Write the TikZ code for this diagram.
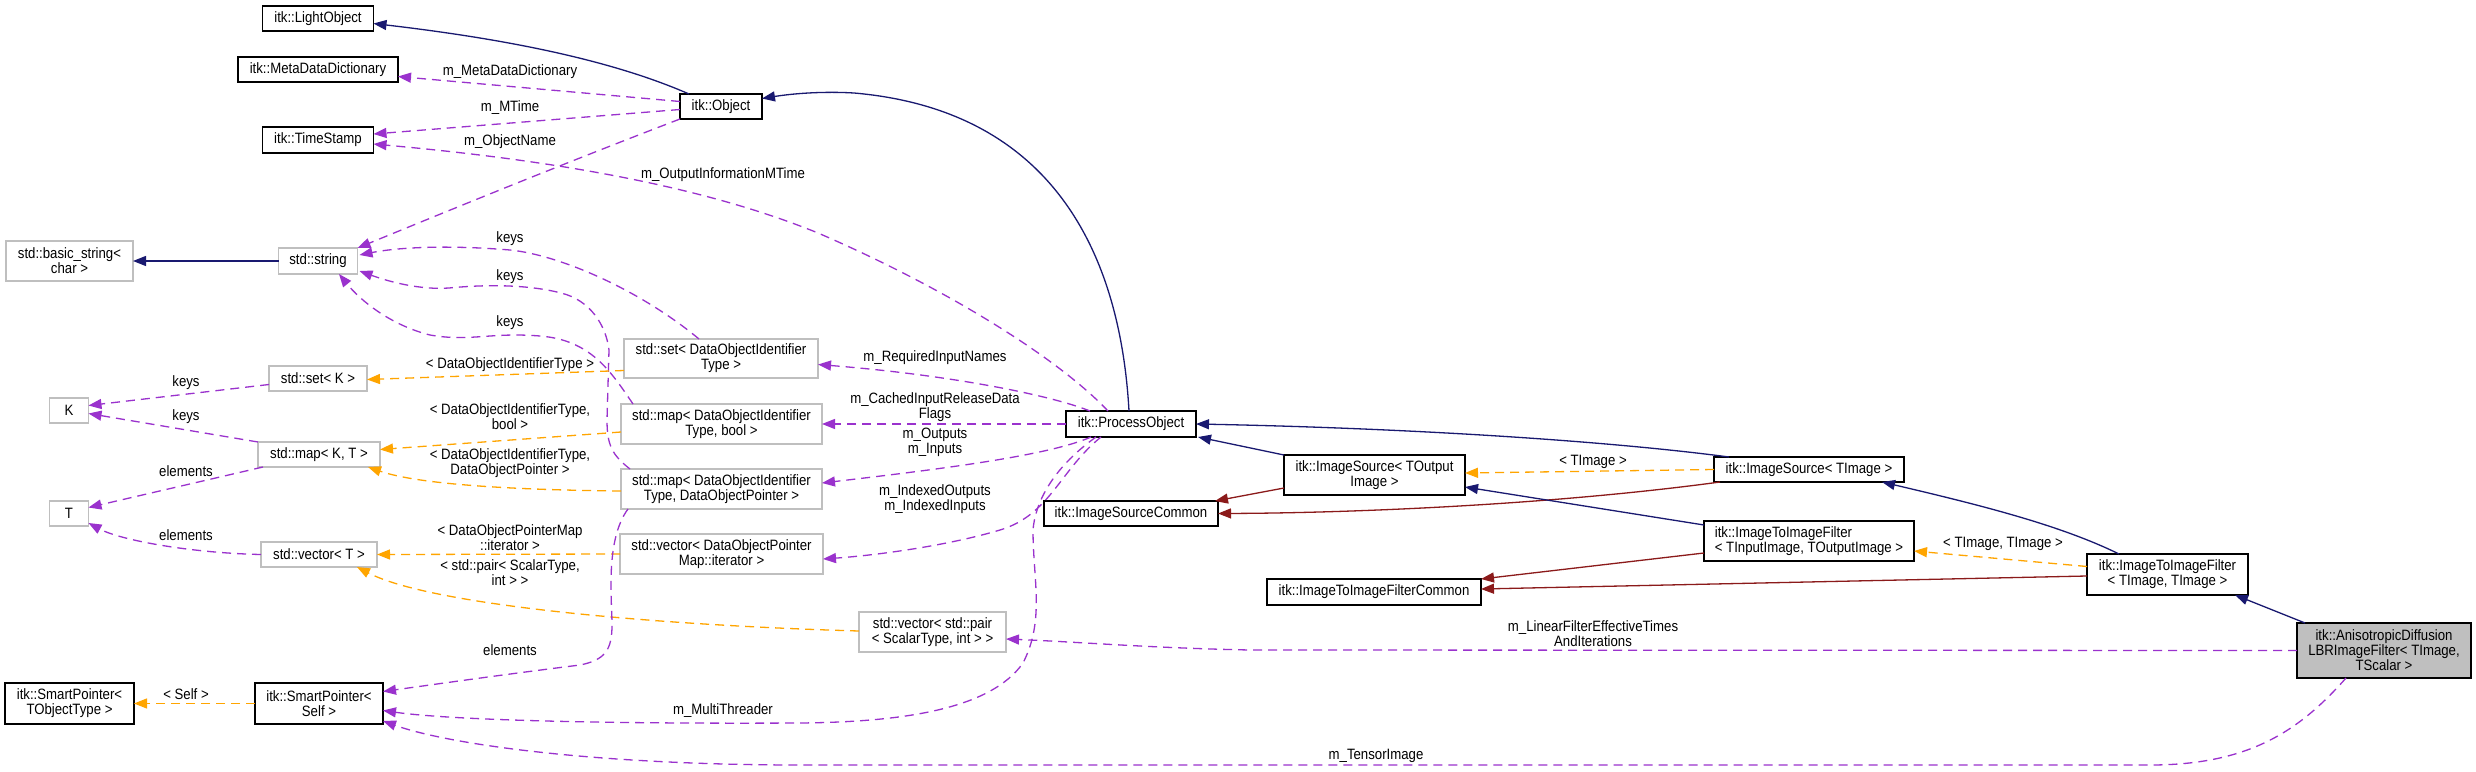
\documentclass[tikz,border=0pt]{standalone}
\usepackage{fontspec}
\setmainfont{Liberation Sans}[FakeStretch=0.88]
\usetikzlibrary{arrows.meta,calc}
\definecolor{navy}{HTML}{191970}
\definecolor{purp}{HTML}{9A32CD}
\definecolor{orng}{HTML}{FFA500}
\definecolor{dred}{HTML}{8B1A1A}
\definecolor{lgray}{HTML}{BFBFBF}
\begin{document}
\begin{tikzpicture}[x=1pt,y=-1pt,
 every node/.style={font=\fontsize{15}{15}\selectfont, inner sep=0pt, outer sep=0pt},
 cls/.style={draw=black, line width=1.6pt, fill=white, align=center},
 stdc/.style={draw=lgray, line width=1.6pt, fill=white, align=center},
 lbl/.style={align=center},
 inh/.style={draw=navy, line width=1.3pt, -{Triangle[length=13pt,width=10pt]}},
 priv/.style={draw=dred, line width=1.3pt, -{Triangle[length=13pt,width=10pt]}},
 use/.style={draw=purp, line width=1.3pt, dash pattern=on 9pt off 6pt, -{Triangle[length=13pt,width=10pt]}},
 tmpl/.style={draw=orng, line width=1.3pt, dash pattern=on 9pt off 6pt, -{Triangle[length=13pt,width=10pt]}}]
\fill[white] (0,0) rectangle (2476,771);
\useasboundingbox (0,0) rectangle (2476,771);
% nodes
\node[cls, minimum width=111, minimum height=25] (lo) at (318,18.5) {itk::LightObject};
\node[cls, minimum width=160, minimum height=25] (mdd) at (318,69.5) {itk::MetaDataDictionary};
\node[cls, minimum width=111, minimum height=26] (ts) at (318,140) {itk::TimeStamp};
\node[cls, minimum width=82, minimum height=25] (obj) at (721,106.5) {itk::Object};
\node[stdc, minimum width=127, minimum height=40] (bstr) at (69.5,261) {std::basic\_string<\\ char >};
\node[stdc, minimum width=79, minimum height=26] (str) at (318,261) {std::string};
\node[stdc, minimum width=98, minimum height=25] (setK) at (318,378.5) {std::set< K >};
\node[stdc, minimum width=194, minimum height=39] (setD) at (721,358.5) {std::set< DataObjectIdentifier\\Type >};
\node[stdc, minimum width=39, minimum height=25] (K) at (69,410.5) {K};
\node[stdc, minimum width=122, minimum height=25] (mapKT) at (319,454.5) {std::map< K, T >};
\node[stdc, minimum width=39, minimum height=25] (T) at (69,513.5) {T};
\node[stdc, minimum width=116, minimum height=25] (vecT) at (319,554.5) {std::vector< T >};
\node[cls, minimum width=129, minimum height=41] (spT) at (69.5,703.5) {itk::SmartPointer<\\ TObjectType >};
\node[cls, minimum width=128, minimum height=41] (spS) at (319,703.5) {itk::SmartPointer<\\ Self >};
\node[stdc, minimum width=201, minimum height=40] (mapB) at (721.5,424) {std::map< DataObjectIdentifier\\Type, bool >};
\node[stdc, minimum width=201, minimum height=40] (mapP) at (721.5,489) {std::map< DataObjectIdentifier\\Type, DataObjectPointer >};
\node[stdc, minimum width=203, minimum height=40] (vecI) at (721.5,554) {std::vector< DataObjectPointer\\Map::iterator >};
\node[stdc, minimum width=147, minimum height=40] (vecP) at (932.5,632) {std::vector< std::pair\\< ScalarType, int > >};
\node[cls, minimum width=130, minimum height=26] (po) at (1131,424) {itk::ProcessObject};
\node[cls, minimum width=174, minimum height=25] (isc) at (1131,513.5) {itk::ImageSourceCommon};
\node[cls, minimum width=181, minimum height=40] (isto) at (1374.5,475) {itk::ImageSource< TOutput\\Image >};
\node[cls, minimum width=190, minimum height=25] (ist) at (1809,469.5) {itk::ImageSource< TImage >};
\node[cls, minimum width=210, minimum height=40, align=left] (itif) at (1809,541) {itk::ImageToImageFilter\\< TInputImage, TOutputImage >};
\node[cls, minimum width=214, minimum height=26] (itifc) at (1374,592) {itk::ImageToImageFilterCommon};
\node[cls, minimum width=161, minimum height=41] (itif2) at (2167.5,574.5) {itk::ImageToImageFilter\\< TImage, TImage >};
\node[cls, fill=lgray, minimum width=174, minimum height=55] (ani) at (2384,650.5) {itk::AnisotropicDiffusion\\LBRImageFilter< TImage,\\ TScalar >};
% edges
\draw[inh] ($(obj.north west)+(9,0)$) .. controls (600,55) and (480,36) .. ($(lo.east)+(0,5)$);
\draw[use] ($(obj.west)+(0,-5)$) -- ($(mdd.east)+(0,7)$);
\draw[use] ($(obj.west)+(0,3)$) -- ($(ts.east)+(0,-6)$);
\draw[use] (obj.south west) .. controls (560,165) and (450,210) .. (str.north east);
\draw[inh] (str.west) -- (bstr.east);
\draw[use] ($(setD.north west)+(75,0)$) .. controls (640,290) and (560,255) .. (510,250) .. controls (450,245) and (400,247) .. ($(str.east)+(2,-6)$);
\draw[use] ($(mapP.north west)+(9,0)$) .. controls (612,455) and (607,445) .. (607,420) -- (609,350) .. controls (606,325) and (590,300) .. (561,293) .. controls (530,285) and (490,284) .. (449,288) .. controls (420,290) and (390,282) .. ($(str.east)+(2,10)$);
\draw[use] ($(mapB.north west)+(12,0)$) .. controls (610,370) and (590,340) .. (540,336) .. controls (490,332) and (470,342) .. (430,335) .. controls (390,325) and (360,300) .. ($(str.south)+(21,0)$);
\draw[tmpl] ($(setD.west)+(0,12)$) -- ($(setK.east)+(0,1)$);
\draw[use] ($(setK.west)+(0,6)$) -- ($(K.east)+(0,-5)$);
\draw[use] (mapKT.north west) -- ($(K.east)+(0,3)$);
\draw[use] ($(mapKT.south west)+(5,0)$) -- ($(T.east)+(0,-6)$);
\draw[tmpl] ($(mapB.west)+(0,8)$) -- ($(mapKT.east)+(0,-5)$);
\draw[tmpl] ($(mapP.west)+(0,2)$) .. controls (520,490) and (420,485) .. ($(mapKT.south east)+(-12,0)$);
\draw[use] (vecT.west) .. controls (190,553) and (120,540) .. ($(T.south east)+(0,-3)$);
\draw[tmpl] (vecI.west) -- (vecT.east);
\draw[tmpl] ($(vecP.west)+(0,-1)$) .. controls (650,625) and (430,605) .. ($(vecT.south east)+(-20,0)$);
\draw[tmpl] (spS.west) -- (spT.east);
\draw[use] ($(mapP.south west)+(7,0)$) .. controls (605,540) and (612,600) .. (612,625) .. controls (612,650) and (605,660) .. (580,665) .. controls (500,675) and (430,685) .. ($(spS.east)+(0,-12)$);
\draw[use] ($(po.south west)+(30,0)$) .. controls (1050,470) and (1035,505) .. (1033,530) .. controls (1033,580) and (1045,620) .. (1023,663) .. controls (990,710) and (900,722) .. (800,723) .. controls (600,724) and (450,720) .. ($(spS.east)+(0,7)$);
\draw[use] ($(ani.south)+(-38,0)$) .. controls (2300,730) and (2250,765) .. (2150,765) -- (800,765) .. controls (600,765) and (450,745) .. ($(spS.south east)+(0,-3)$);
\draw[use] (ani.west) -- (1250,650) .. controls (1150,648) and (1080,642) .. ($(vecP.east)+(0,7)$);
\draw[use] ($(po.north west)+(24,0)$) .. controls (1050,395) and (950,375) .. ($(setD.east)+(0,6)$);
\draw[use] (po.west) -- (mapB.east);
\draw[use] ($(po.south west)+(25,0)$) .. controls (1050,455) and (950,468) .. ($(mapP.east)+(0,-6)$);
\draw[use] ($(po.south west)+(35,0)$) .. controls (1060,470) and (1050,515) .. (1000,530) .. controls (950,545) and (880,555) .. ($(vecI.east)+(0,5)$);
\draw[use] ($(po.north west)+(42,0)$) .. controls (1060,360) and (950,290) .. (818,233) .. controls (700,185) and (550,160) .. ($(ts.east)+(0,4)$);
\draw[inh] ($(po.north)+(-2,0)$) .. controls (1120,250) and (1050,110) .. (854,93) .. controls (820,91) and (790,94) .. ($(obj.east)+(0,-8)$);
\draw[inh] ($(ist.north west)+(15,0)$) .. controls (1600,440) and (1400,428) .. (po.east);
\draw[inh] (isto.north west) -- ($(po.south east)+(2,0)$);
\draw[priv] ($(isto.west)+(0,13)$) -- ($(isc.north east)+(-3,0)$);
\draw[priv] ($(ist.south west)+(6,0)$) .. controls (1550,505) and (1350,513) .. (isc.east);
\draw[tmpl] (ist.west) -- ($(isto.east)+(0,-2)$);
\draw[inh] ($(itif.north west)+(0,4)$) -- ($(isto.south east)+(0,-8)$);
\draw[priv] ($(itif.west)+(0,12)$) -- (itifc.north east);
\draw[priv] ($(itif2.west)+(0,1.5)$) -- ($(itifc.east)+(0,-3)$);
\draw[tmpl] ($(itif2.west)+(0,-8)$) -- ($(itif.east)+(0,10)$);
\draw[inh] ($(itif2.north west)+(32,0)$) .. controls (2060,525) and (1980,505) .. ($(ist.south east)+(-22,0)$);
\draw[inh] ($(ani.north west)+(8,0)$) -- ($(itif2.south east)+(-13,0)$);
% labels
\node[lbl] (l1) at (510,72) {m\_MetaDataDictionary};
\node[lbl] (l2) at (510,108) {m\_MTime};
\node[lbl] (l3) at (510,142) {m\_ObjectName};
\node[lbl] (l4) at (723,175) {m\_OutputInformationMTime};
\node[lbl] (l5) at (510,239) {keys};
\node[lbl] (l6) at (510,277) {keys};
\node[lbl] (l7) at (510,323) {keys};
\node[lbl] (l8) at (186,383) {keys};
\node[lbl] (l9) at (186,417) {keys};
\node[lbl] (l10) at (510,365) {< DataObjectIdentifierType >};
\node[lbl] (l11) at (510,417) {< DataObjectIdentifierType,\\ bool >};
\node[lbl] (l12) at (186,471) {elements};
\node[lbl] (l13) at (510,463) {< DataObjectIdentifierType,\\ DataObjectPointer >};
\node[lbl] (l14) at (186,535) {elements};
\node[lbl] (l15) at (510,538) {< DataObjectPointerMap\\ ::iterator >};
\node[lbl] (l16) at (510,573) {< std::pair< ScalarType,\\ int > >};
\node[lbl] (l17) at (510,650) {elements};
\node[lbl] (l18) at (186,694) {< Self >};
\node[lbl] (l19) at (723,711) {m\_MultiThreader};
\node[lbl] (l20) at (935,358) {m\_RequiredInputNames};
\node[lbl] (l21) at (935,407) {m\_CachedInputReleaseData\\ Flags};
\node[lbl] (l22) at (935,442) {m\_Outputs\\ m\_Inputs};
\node[lbl] (l23) at (935,499) {m\_IndexedOutputs\\ m\_IndexedInputs};
\node[lbl] (l24) at (1593,462) {< TImage >};
\node[lbl] (l25) at (2003,544) {< TImage, TImage >};
\node[lbl] (l26) at (1593,634) {m\_LinearFilterEffectiveTimes\\ AndIterations};
\node[lbl] (l27) at (1376,756) {m\_TensorImage};
\end{tikzpicture}
\end{document}
